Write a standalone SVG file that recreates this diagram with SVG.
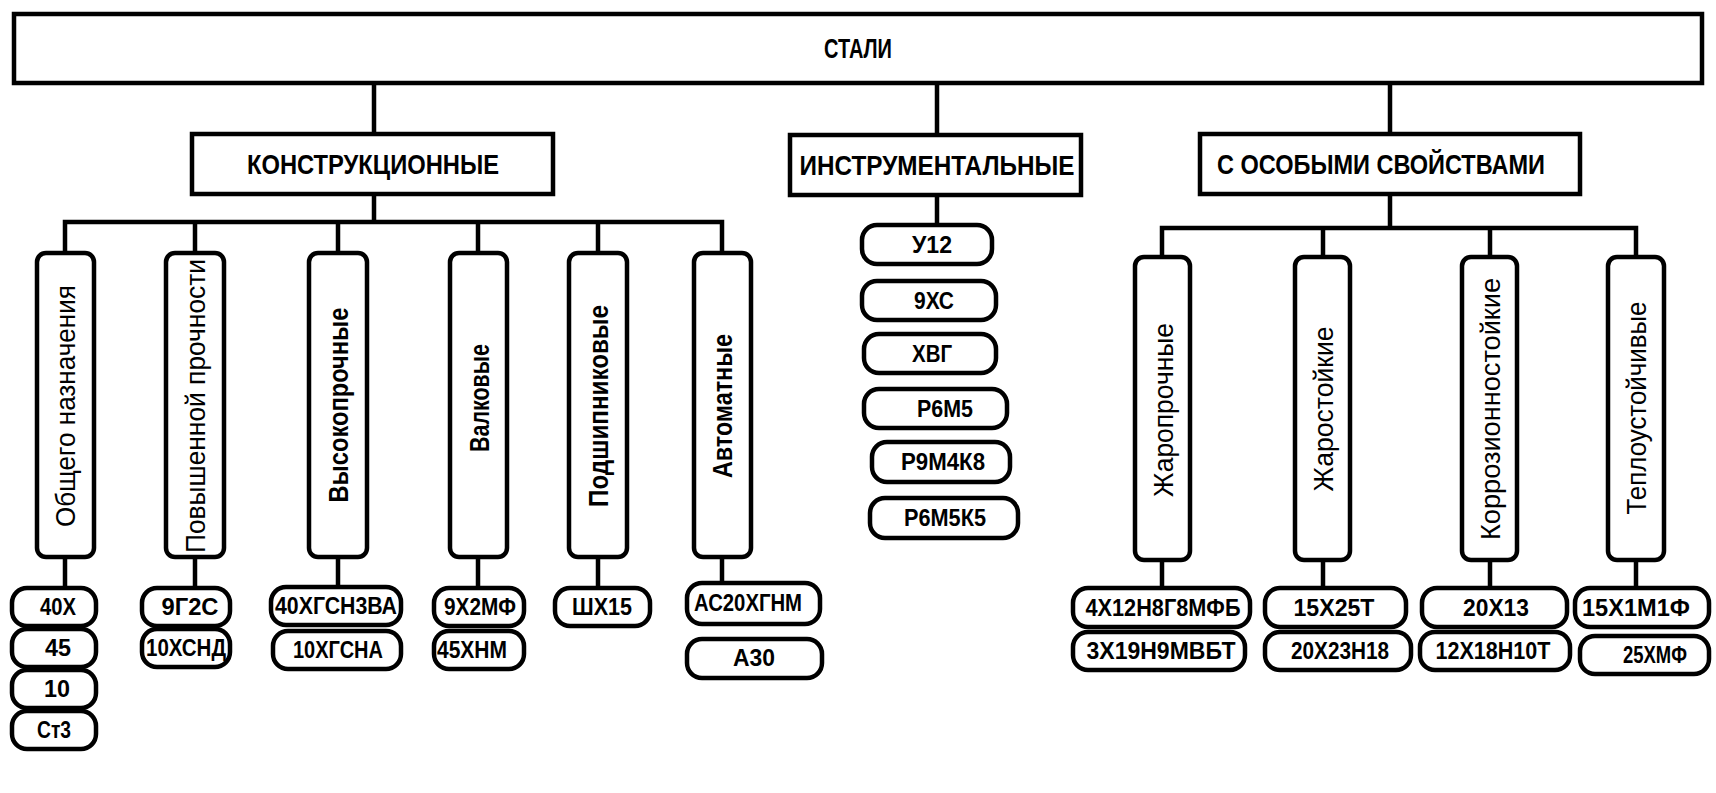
<svg xmlns="http://www.w3.org/2000/svg" width="1716" height="793" viewBox="0 0 1716 793">
<style>
.box{fill:#fff;stroke:#000;stroke-width:4.5}
.leaf{fill:#fff;stroke:#000;stroke-width:4.5}
.ln{stroke:#000;stroke-width:4.5;fill:none;stroke-linecap:square}
.t{font-family:"Liberation Sans",Arial,sans-serif;font-weight:bold;text-anchor:middle;fill:#000}
.h{font-size:27px}
.lf{font-size:23px}
.v{font-size:28px}
.vn{font-weight:normal}
</style>
<rect width="1716" height="793" fill="#fff"/>
<g id="connectors">
<path class="ln" d="M374 83V134M374 194V222M65 222H722M65 222V253M195 222V253M338 222V253M478 222V253M598 222V253M722 222V253"/>
<path class="ln" d="M937 83V135M937 195V225"/>
<path class="ln" d="M1390 83V134M1390 194V228M1162 228H1636M1162 228V257M1323 228V257M1490 228V257M1636 228V257"/>
<path class="ln" d="M65 557V588M195 557V588M338 557V587M478 557V588M598 557V588M722 557V583"/>
<path class="ln" d="M1162 560V588M1323 560V588M1490 560V588M1636 560V588"/>
</g>
<g id="root"><rect class="box" x="14" y="14" width="1688" height="69"/><text class="t h" x="858" y="58" textLength="68" lengthAdjust="spacingAndGlyphs">СТАЛИ</text></g>
<g id="konstr"><rect class="box" x="192" y="134" width="361" height="60"/><text class="t h" x="373" y="174" textLength="252" lengthAdjust="spacingAndGlyphs">КОНСТРУКЦИОННЫЕ</text></g>
<g id="instr"><rect class="box" x="790" y="135" width="291" height="60"/><text class="t h" x="937" y="175" textLength="275" lengthAdjust="spacingAndGlyphs">ИНСТРУМЕНТАЛЬНЫЕ</text></g>
<g id="osob"><rect class="box" x="1200" y="134" width="380" height="60"/><text class="t h" x="1381" y="174" textLength="328" lengthAdjust="spacingAndGlyphs">С ОСОБЫМИ СВОЙСТВАМИ</text></g>

<g id="k1"><rect class="box" x="37" y="253" width="57" height="304" rx="9"/><text class="t v vn" transform="translate(75 406) rotate(-90)" textLength="242" lengthAdjust="spacingAndGlyphs">Общего назначения</text></g>
<g id="k2"><rect class="box" x="166" y="253" width="58" height="304" rx="9"/><text class="t v vn" transform="translate(205 406) rotate(-90)" textLength="294" lengthAdjust="spacingAndGlyphs">Повышенной прочности</text></g>
<g id="k3"><rect class="box" x="309" y="253" width="58" height="304" rx="9"/><text class="t v" transform="translate(348 405) rotate(-90)" textLength="195" lengthAdjust="spacingAndGlyphs">Высокопрочные</text></g>
<g id="k4"><rect class="box" x="450" y="253" width="57" height="304" rx="9"/><text class="t v" transform="translate(489 398) rotate(-90)" textLength="108" lengthAdjust="spacingAndGlyphs">Валковые</text></g>
<g id="k5"><rect class="box" x="569" y="253" width="58" height="304" rx="9"/><text class="t v" transform="translate(608 406) rotate(-90)" textLength="202" lengthAdjust="spacingAndGlyphs">Подшипниковые</text></g>
<g id="k6"><rect class="box" x="694" y="253" width="57" height="304" rx="9"/><text class="t v" transform="translate(732 406) rotate(-90)" textLength="144" lengthAdjust="spacingAndGlyphs">Автоматные</text></g>

<g id="s1"><rect class="box" x="1135" y="257" width="55" height="303" rx="9"/><text class="t v vn" transform="translate(1173 410) rotate(-90)" textLength="174" lengthAdjust="spacingAndGlyphs">Жаропрочные</text></g>
<g id="s2"><rect class="box" x="1295" y="257" width="55" height="303" rx="9"/><text class="t v vn" transform="translate(1333 409) rotate(-90)" textLength="165" lengthAdjust="spacingAndGlyphs">Жаростойкие</text></g>
<g id="s3"><rect class="box" x="1462" y="257" width="55" height="303" rx="9"/><text class="t v vn" transform="translate(1500 409) rotate(-90)" textLength="262" lengthAdjust="spacingAndGlyphs">Коррозионностойкие</text></g>
<g id="s4"><rect class="box" x="1608" y="257" width="56" height="303" rx="9"/><text class="t v vn" transform="translate(1646 408) rotate(-90)" textLength="213" lengthAdjust="spacingAndGlyphs">Теплоустойчивые</text></g>

<g id="l-40x"><rect class="leaf" x="12" y="588" width="84" height="38" rx="15"/><text class="t lf" x="58" y="615" textLength="36" lengthAdjust="spacingAndGlyphs">40Х</text></g>
<g id="l-45"><rect class="leaf" x="12" y="629" width="84" height="38" rx="15"/><text class="t lf" x="58" y="656" textLength="26" lengthAdjust="spacingAndGlyphs">45</text></g>
<g id="l-10"><rect class="leaf" x="12" y="670" width="84" height="38" rx="15"/><text class="t lf" x="57" y="697" textLength="26" lengthAdjust="spacingAndGlyphs">10</text></g>
<g id="l-st3"><rect class="leaf" x="12" y="711" width="84" height="38" rx="15"/><text class="t lf" x="54" y="738" textLength="34" lengthAdjust="spacingAndGlyphs">Ст3</text></g>
<g id="l-9g2s"><rect class="leaf" x="142" y="588" width="88" height="38" rx="15"/><text class="t lf" x="190" y="615" textLength="57" lengthAdjust="spacingAndGlyphs">9Г2С</text></g>
<g id="l-10hsnd"><rect class="leaf" x="142" y="629" width="88" height="38" rx="15"/><text class="t lf" x="186" y="656" textLength="80" lengthAdjust="spacingAndGlyphs">10ХСНД</text></g>
<g id="l-40hgsn3va"><rect class="leaf" x="271" y="587" width="130" height="38" rx="15"/><text class="t lf" x="336" y="614" textLength="122" lengthAdjust="spacingAndGlyphs">40ХГСН3ВА</text></g>
<g id="l-10hgsna"><rect class="leaf" x="273" y="631" width="128" height="38" rx="15"/><text class="t lf" x="338" y="658" textLength="90" lengthAdjust="spacingAndGlyphs">10ХГСНА</text></g>
<g id="l-9h2mf"><rect class="leaf" x="434" y="588" width="90" height="38" rx="15"/><text class="t lf" x="480" y="615" textLength="72" lengthAdjust="spacingAndGlyphs">9Х2МФ</text></g>
<g id="l-45hnm"><rect class="leaf" x="434" y="631" width="90" height="38" rx="15"/><text class="t lf" x="472" y="658" textLength="70" lengthAdjust="spacingAndGlyphs">45ХНМ</text></g>
<g id="l-shh15"><rect class="leaf" x="555" y="588" width="95" height="38" rx="15"/><text class="t lf" x="602" y="615" textLength="60" lengthAdjust="spacingAndGlyphs">ШХ15</text></g>
<g id="l-as20"><rect class="leaf" x="687" y="583" width="133" height="41" rx="15"/><text class="t lf" x="748" y="611" textLength="108" lengthAdjust="spacingAndGlyphs">АС20ХГНМ</text></g>
<g id="l-a30"><rect class="leaf" x="687" y="639" width="135" height="39" rx="15"/><text class="t lf" x="754" y="666" textLength="42" lengthAdjust="spacingAndGlyphs">А30</text></g>

<g id="l-u12"><rect class="leaf" x="862" y="225" width="130" height="39" rx="15"/><text class="t lf" x="932" y="253" textLength="40" lengthAdjust="spacingAndGlyphs">У12</text></g>
<g id="l-9hs"><rect class="leaf" x="862" y="281" width="134" height="39" rx="15"/><text class="t lf" x="934" y="309" textLength="40" lengthAdjust="spacingAndGlyphs">9ХС</text></g>
<g id="l-hvg"><rect class="leaf" x="864" y="334" width="132" height="39" rx="15"/><text class="t lf" x="932" y="362" textLength="40" lengthAdjust="spacingAndGlyphs">ХВГ</text></g>
<g id="l-r6m5"><rect class="leaf" x="864" y="389" width="143" height="39" rx="15"/><text class="t lf" x="945" y="417" textLength="56" lengthAdjust="spacingAndGlyphs">Р6М5</text></g>
<g id="l-r9m4k8"><rect class="leaf" x="872" y="442" width="138" height="40" rx="15"/><text class="t lf" x="943" y="470" textLength="84" lengthAdjust="spacingAndGlyphs">Р9М4К8</text></g>
<g id="l-r6m5k5"><rect class="leaf" x="870" y="498" width="148" height="40" rx="15"/><text class="t lf" x="945" y="526" textLength="82" lengthAdjust="spacingAndGlyphs">Р6М5К5</text></g>

<g id="l-4h12"><rect class="leaf" x="1073" y="588" width="177" height="39" rx="15"/><text class="t lf" x="1163" y="616" textLength="155" lengthAdjust="spacingAndGlyphs">4Х12Н8Г8МФБ</text></g>
<g id="l-3h19"><rect class="leaf" x="1073" y="632" width="172" height="38" rx="15"/><text class="t lf" x="1161" y="659" textLength="149" lengthAdjust="spacingAndGlyphs">3Х19Н9МВБТ</text></g>
<g id="l-15h25t"><rect class="leaf" x="1265" y="588" width="141" height="39" rx="15"/><text class="t lf" x="1334" y="616" textLength="81" lengthAdjust="spacingAndGlyphs">15Х25Т</text></g>
<g id="l-20h23n18"><rect class="leaf" x="1265" y="632" width="146" height="38" rx="15"/><text class="t lf" x="1340" y="659" textLength="98" lengthAdjust="spacingAndGlyphs">20Х23Н18</text></g>
<g id="l-20h13"><rect class="leaf" x="1422" y="588" width="145" height="39" rx="15"/><text class="t lf" x="1496" y="616" textLength="66" lengthAdjust="spacingAndGlyphs">20Х13</text></g>
<g id="l-12h18"><rect class="leaf" x="1420" y="632" width="150" height="38" rx="15"/><text class="t lf" x="1493" y="659" textLength="115" lengthAdjust="spacingAndGlyphs">12Х18Н10Т</text></g>
<g id="l-15h1m1f"><rect class="leaf" x="1575" y="588" width="134" height="39" rx="15"/><text class="t lf" x="1636" y="616" textLength="108" lengthAdjust="spacingAndGlyphs">15Х1М1Ф</text></g>
<g id="l-25hmf"><rect class="leaf" x="1580" y="636" width="129" height="38" rx="15"/><text class="t lf" x="1655" y="663" textLength="64" lengthAdjust="spacingAndGlyphs">25ХМФ</text></g>
</svg>
